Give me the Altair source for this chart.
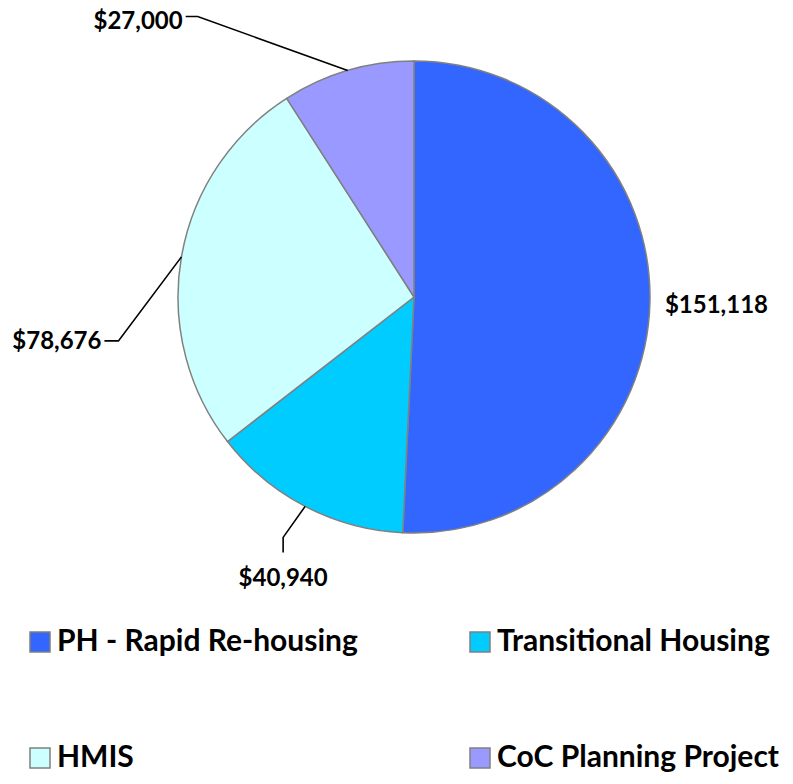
import math
import altair as alt
import pandas as pd

# ---- data ----
categories = ["PH - Rapid Re-housing", "Transitional Housing", "HMIS", "CoC Planning Project"]
amounts = [151118, 40940, 78676, 27000]
label_texts = ["$151,118", "$40,940", "$78,676", "$27,000"]
colors = ["#3366FF", "#00CCFF", "#CCFFFF", "#9999FF"]

# ---- layout (pixels, chart coordinates) ----
W, H = 777, 768
CX, CY, R = 406, 289, 236
FONT = "Lato"
# label layout: (elbow offset from arc anchor, end offset from elbow, text offset from end, align)
label_layout = {
    "PH - Rapid Re-housing": (None, None, (15, 3), "left"),
    "Transitional Housing": ((-22, 31), (0, 15), (0, 27), "center"),
    "HMIS": ((-63, 84), (-14, 0), (-3, 1), "right"),
    "CoC Planning Project": ((-150, -54), (-12, 0), (-3, 5), "right"),
}

pie_df = pd.DataFrame({"category": categories, "value": amounts, "idx": range(len(categories))})

total = float(sum(amounts))
cum = 0.0
line_rows, text_rows = [], []
for cat, val, txt in zip(categories, amounts, label_texts):
    mid = (cum + val / 2) / total * 2 * math.pi
    cum += val
    ax, ay = CX + R * math.sin(mid), CY - R * math.cos(mid)
    elbow, end, toff, align = label_layout[cat]
    if elbow is None:
        tx, ty = ax + toff[0], ay + toff[1]
    else:
        ex, ey = ax + elbow[0], ay + elbow[1]
        nx, ny = ex + end[0], ey + end[1]
        for s, (px, py) in enumerate([(ax, ay), (ex, ey), (nx, ny)]):
            line_rows.append({"category": cat, "seq": s, "px": px, "py": py})
        tx, ty = nx + toff[0], ny + toff[1]
    text_rows.append({"category": cat, "text": txt, "px": tx, "py": ty, "align": align})

line_df = pd.DataFrame(line_rows)
text_df = pd.DataFrame(text_rows)

xs = alt.Scale(domain=[0, W], range=[0, W])
ys = alt.Scale(domain=[0, H], range=[0, H])

color_scale = alt.Scale(domain=categories, range=colors)

pie = alt.Chart(pie_df).mark_arc(
    stroke="#808080", strokeWidth=1.5, radius=R, opacity=1
).encode(
    theta=alt.Theta("value:Q", stack=True),
    order=alt.Order("idx:Q"),
    color=alt.Color(
        "category:N",
        scale=color_scale,
        sort=categories,
        legend=alt.Legend(
            title=None,
            orient="none",
            legendX=17,
            legendY=619,
            direction="horizontal",
            columns=2,
            columnPadding=107,
            rowPadding=86,
            symbolType="square",
            symbolSize=400,
            symbolStrokeColor="#808080",
            symbolStrokeWidth=1.5,
            symbolOpacity=1,
            labelFont=FONT,
            labelFontWeight="bold",
            labelFontSize=30,
            labelColor="#000000",
            labelLimit=500,
            labelOffset=2,
        ),
    ),
    x=alt.value(CX),
    y=alt.value(CY),
)

lines = alt.Chart(line_df).mark_line(color="#000000", strokeWidth=1.6).encode(
    x=alt.X("px:Q", scale=xs, axis=None),
    y=alt.Y("py:Q", scale=ys, axis=None),
    detail="category:N",
    order="seq:Q",
)

layers = [pie, lines]
for al in ["left", "center", "right"]:
    sub = text_df[text_df["align"] == al]
    if len(sub) == 0:
        continue
    layers.append(
        alt.Chart(sub).mark_text(
            align=al, baseline="middle", font=FONT, fontWeight="bold", fontSize=24, color="#000000"
        ).encode(
            x=alt.X("px:Q", scale=xs, axis=None),
            y=alt.Y("py:Q", scale=ys, axis=None),
            text="text:N",
        )
    )

chart = alt.layer(*layers).resolve_scale(x="shared", y="shared").properties(
    width=W, height=H, padding=0, autosize=alt.AutoSizeParams(type="none"),
    background="#ffffff",
).configure_view(stroke=None, strokeWidth=0)

chart.save("out.html", embed_options={"renderer": "svg", "actions": False})
